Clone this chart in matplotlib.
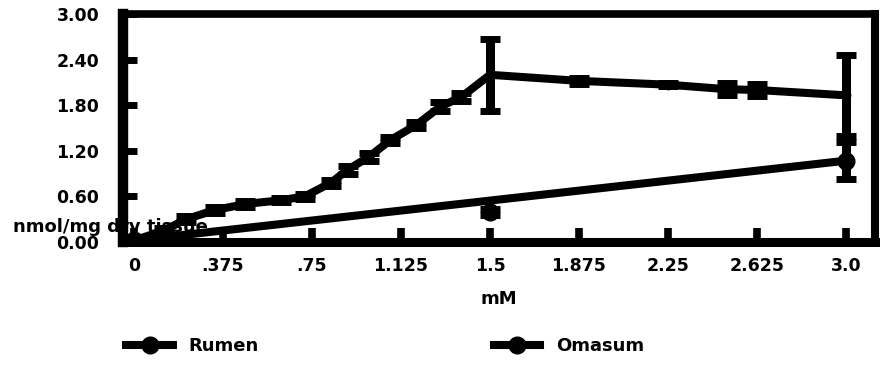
import matplotlib
matplotlib.use("Agg")
import matplotlib.pyplot as plt
from matplotlib.lines import Line2D

# ---- data ----
x_ticks = [0, 0.375, 0.75, 1.125, 1.5, 1.875, 2.25, 2.625, 3.0]
x_tick_labels = ["0", ".375", ".75", "1.125", "1.5", "1.875", "2.25", "2.625", "3.0"]
y_ticks = [0.0, 0.6, 1.2, 1.8, 2.4, 3.0]
y_tick_labels = ["0.00", "0.60", "1.20", "1.80", "2.40", "3.00"]

rumen_x = [0, 0.125, 0.22, 0.34, 0.47, 0.62, 0.72, 0.83, 0.90, 0.99, 1.08, 1.19,
           1.29, 1.38, 1.5, 1.875, 2.25, 2.5, 2.625, 3.0]
rumen_y = [0.02, 0.15, 0.30, 0.42, 0.50, 0.55, 0.60, 0.78, 0.95, 1.12, 1.34, 1.54,
           1.78, 1.91, 2.20, 2.12, 2.07, 2.01, 2.00, 1.93]
rumen_err = [0.02, 0.04, 0.04, 0.04, 0.04, 0.03, 0.03, 0.04, 0.05, 0.05, 0.04, 0.04,
             0.06, 0.05, 0.47, 0.04, 0.02, 0.08, 0.08, 0.53]

omasum_line_x = [0, 3.0]
omasum_line_y = [0.02, 1.07]
omasum_x = [0, 1.5, 3.0]
omasum_y = [0.02, 0.40, 1.07]
omasum_err = [0.0, 0.04, 0.24]

series_labels = ["Rumen", "Omasum"]

# ---- figure ----
fig = plt.figure(figsize=(8.8, 3.71), dpi=100)
ax = fig.add_axes([123 / 880, 1 - 242 / 371, (875 - 123) / 880, (242 - 14) / 371])
ax.set_xlim(-0.046, 3.122)
ax.set_ylim(0, 3.0)

lw = 5.8
ax.errorbar(rumen_x, rumen_y, yerr=rumen_err, color="black", lw=lw, marker="o",
            ms=6, elinewidth=6.5, capsize=7.5, capthick=5, zorder=3)
ax.plot(omasum_line_x, omasum_line_y, color="black", lw=lw, zorder=3,
        solid_capstyle="butt")
ax.errorbar(omasum_x, omasum_y, yerr=omasum_err, color="black", lw=0, marker="o",
            ms=12, elinewidth=6.5, capsize=7.5, capthick=5, zorder=3)

for side, w in (("left", 7.5), ("right", 5.8), ("top", 5.5), ("bottom", 6.5)):
    ax.spines[side].set_linewidth(w)
    ax.spines[side].set_color("black")

font = "DejaVu Sans"
ax.set_xticks(x_ticks)
ax.set_xticklabels(x_tick_labels, fontsize=12.5, fontweight="bold", family=font)
ax.set_yticks(y_ticks)
ax.set_yticklabels(y_tick_labels, fontsize=12.5, fontweight="bold", family=font)
ax.tick_params(axis="x", direction="in", length=10, width=5.5, pad=11)
ax.tick_params(axis="y", direction="in", length=10, width=5, pad=17)

ax.set_xlabel("mM", fontsize=13, fontweight="bold", family=font)
ax.xaxis.set_label_coords(0.5, (242 - 299) / 228)
ax.xaxis.label.set_va("center")

ax.text((13 - 123) / 752, (242 - 232) / 228, "nmol/mg dry tissue", transform=ax.transAxes,
        fontsize=13, fontweight="bold", family=font, ha="left", va="baseline",
        zorder=1, clip_on=False)

handles = [Line2D([], [], color="black", lw=lw, marker="o", ms=12),
           Line2D([], [], color="black", lw=lw, marker="o", ms=12)]
fig.legend(handles, series_labels, loc="center left",
           bbox_to_anchor=(110 / 880, 1 - 346 / 371), ncol=2, frameon=False,
           handlelength=2.6, handletextpad=0.85, columnspacing=13.0,
           prop={"family": font, "weight": "bold", "size": 13})

fig.savefig("out.png", dpi=100)
